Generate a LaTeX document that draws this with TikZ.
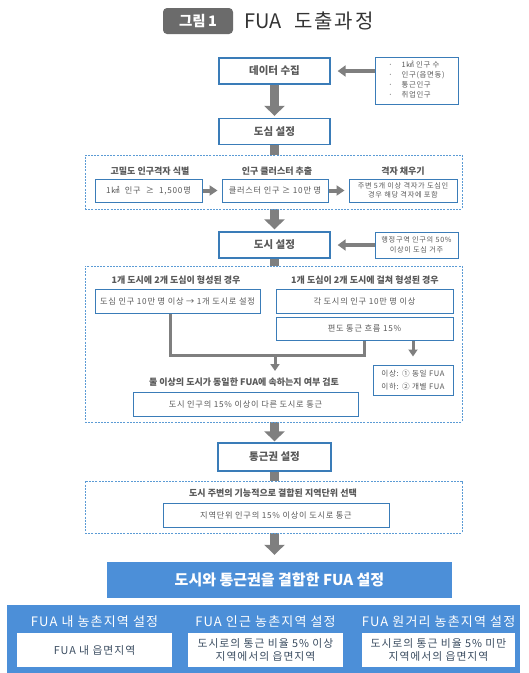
\documentclass[tikz,border=0pt]{standalone}
\usepackage{fontspec}
\setmainfont{Noto Sans CJK KR}
\newfontfamily\krsp{Noto Sans CJK KR}[LetterSpace=9]
\usetikzlibrary{arrows.meta}
\pgfdeclarelayer{bg}
\pgfsetlayers{bg,main}
\definecolor{bdr}{HTML}{3A7CB8}
\definecolor{txt}{HTML}{595959}
\definecolor{arr}{HTML}{7F7F7F}
\definecolor{dsh}{HTML}{5B9BD5}
\definecolor{fua}{HTML}{4C8FD8}
\definecolor{wtxt}{HTML}{3B4D61}
\definecolor{badge}{HTML}{6B6B6B}
\definecolor{ttl}{HTML}{333333}
\tikzset{
 mainbox/.style={draw=bdr, line width=1.3pt, fill=white, text=txt, font=\fontsize{10.5}{12}\selectfont\bfseries, minimum width=111pt, minimum height=26pt, inner sep=0pt},
 sidebox/.style={draw=bdr, line width=1pt, fill=white, text=txt, font=\krsp\fontsize{7.4}{10}\selectfont, inner sep=0pt, align=center},
 frame/.style={draw=dsh, line width=0.7pt, dash pattern=on 2pt off 1.2pt, fill=white, inner sep=0pt, minimum width=377pt},
 subhead/.style={text=txt, font=\fontsize{9}{11}\selectfont\bfseries, inner sep=0pt},
 inbox/.style={draw=bdr, line width=1pt, fill=white, text=txt, font=\krsp\fontsize{8.2}{10}\selectfont, inner sep=0pt, minimum height=24pt, align=center},
 bigarrow/.style={draw=arr, line width=9pt, -{Triangle[width=20pt,length=10pt]}},
 sidearrow/.style={draw=arr, line width=3.5pt, -{Triangle[width=11pt,length=8pt]}},
 smallarrow/.style={draw=arr, line width=4pt, -{Triangle[width=10pt,length=8pt]}},
 link/.style={draw=arr, line width=3pt, line join=miter},
 linkarrow/.style={draw=arr, line width=3pt, -{Triangle[width=9pt,length=7pt]}},
 bandhead/.style={text=white, font=\krsp\fontsize{13}{15}\selectfont, inner sep=0pt},
 whitebox/.style={fill=white, text=wtxt, font=\krsp\fontsize{10.8}{13}\selectfont, inner sep=0pt, minimum height=34pt, align=center},
}
\begin{document}
\begin{tikzpicture}[x=1pt,y=-1pt]
\useasboundingbox (0,0) rectangle (529,673);
% title
\node[fill=badge, rounded corners=4pt, minimum width=70pt, minimum height=26pt, text=white, font=\fontsize{14.5}{16}\selectfont\bfseries, inner sep=0pt] (badge) at (198,21) {그림\,1};
\node[anchor=west, text=ttl, font=\fontsize{20}{22}\selectfont, inner sep=0pt] (title) at (244,21) {FUA\hspace{13pt}{\krsp 도출과정}};
% data
\node[mainbox] (data) at (274.5,71) {데이터 수집};
\node[sidebox, minimum width=83pt, minimum height=47pt] (src) at (416.5,80.5) {\begin{tabular}{@{}l@{\hspace{9pt}}l@{}}·&1㎢ 인구 수\\ ·&인구(읍면동)\\ ·&통근인구\\ ·&취업인구\end{tabular}};
\draw[sidearrow, shorten >=7pt] (src.west |- data.east) -- (data.east);
\node[mainbox] (dosim) at (274.5,131.5) {도심 설정};
% frame 1
\node[frame, minimum height=54pt] (f1) at (273.5,182) {};
\node[subhead] (h11) at (150,171) {고밀도 인구격자 식별};
\node[subhead] (h12) at (277,171) {인구 클러스터 추출};
\node[subhead] (h13) at (403,171) {격자 채우기};
\node[inbox, minimum width=107pt, minimum height=23pt] (b11) at (148.5,190.5) {1㎢ \ 인구 \ ≥ \ 1,500명};
\node[inbox, minimum width=106pt, minimum height=23pt] (b12) at (275,190.5) {클러스터 인구 ≥ 10만 명};
\node[inbox, minimum width=108pt, minimum height=23pt, font=\krsp\fontsize{7.2}{9}\selectfont] (b13) at (403,190.5) {주변 5개 이상 격자가 도심인\\경우 해당 격자에 포함};
\draw[smallarrow, shorten >=4pt] (b11.east) -- (b12.west);
\draw[smallarrow, shorten >=4pt] (b12.east) -- (b13.west);
% dosi
\node[mainbox] (dosi) at (274.5,245) {도시 설정};
\node[sidebox, minimum width=83pt, minimum height=26pt, font=\krsp\fontsize{7.2}{10}\selectfont] (cond) at (416.5,245) {행정구역 인구의 50\%\\이상이 도심 거주};
\draw[sidearrow, shorten >=7pt] (cond.west) -- (dosi.east);
% frame 2
\node[frame, minimum height=156pt] (f2) at (273.5,344) {};
\node[subhead] (h21) at (176,280) {1개 도시에 2개 도심이 형성된 경우};
\node[subhead] (h22) at (365,280) {1개 도심이 2개 도시에 걸쳐 형성된 경우};
\node[inbox, minimum width=165pt] (b21) at (177.5,301) {도심 인구 10만 명 이상 → 1개 도시로 설정};
\node[inbox, minimum width=177pt] (b22) at (364.5,301) {각 도시의 인구 10만 명 이상};
\node[inbox, minimum width=177pt, minimum height=23pt] (b23) at (364.5,328.5) {편도 통근 흐름 15\%};
\coordinate (join) at (275,355);
\coordinate (tip) at (275,371);
\draw[link] ([xshift=-7pt]b21.south) |- (b23.south |- join) -- (b23.south);
\draw[linkarrow] (join) -- (tip);
\node[subhead] (h23) at (244,382) {둘 이상의 도시가 동일한 FUA에 속하는지 여부 검토};
\node[inbox, minimum width=225pt] (b24) at (245.5,404) {도시 인구의 15\% 이상이 다른 도시로 통근};
\node[inbox, minimum width=80pt, minimum height=30pt, font=\krsp\fontsize{7.6}{13}\selectfont] (res) at (413,380) {이상: ① 동일 FUA\\이하: ② 개별 FUA};
\draw[linkarrow, shorten >=8pt] (b23.south -| res.north) -- (res.north);
% tongeun
\node[mainbox, minimum width=113pt, minimum height=28pt] (tong) at (274.5,457) {통근권 설정};
\node[frame, minimum height=52pt] (f3) at (273.5,507) {};
\node[subhead] (h31) at (273,493) {도시 주변의 기능적으로 결합된 지역단위 선택};
\node[inbox, minimum width=226pt] (b31) at (276,515) {지역단위 인구의 15\% 이상이 도시로 통근};
% FUA
\node[fill=fua, minimum width=345pt, minimum height=36pt, text=white, font=\fontsize{15}{17}\selectfont\bfseries, inner sep=0pt] (fuabox) at (279.5,580) {도시와 통근권을 결합한 FUA 설정};
\node[fill=fua, minimum width=513pt, minimum height=68pt, inner sep=0pt] (band) at (263.5,639) {};
\node[bandhead] (g1) at (94.5,622) {FUA 내 농촌지역 설정};
\node[bandhead] (g2) at (265.5,622) {FUA 인근 농촌지역 설정};
\node[bandhead] (g3) at (438.5,622) {FUA 원거리 농촌지역 설정};
\node[whitebox, minimum width=155pt] (w1) at (94.5,650) {FUA 내 읍면지역};
\node[whitebox, minimum width=155pt] (w2) at (265.5,650) {도시로의 통근 비율 5\% 이상\\지역에서의 읍면지역};
\node[whitebox, minimum width=153pt] (w3) at (438.5,650) {도시로의 통근 비율 5\% 미만\\지역에서의 읍면지역};
% big arrows
\begin{pgfonlayer}{bg}
\draw[bigarrow, shorten >=2pt] (data.south) -- (dosim.north);
\draw[bigarrow, shorten >=2pt] (dosim.south) -- (dosi.north);
\draw[bigarrow, shorten >=1pt] (dosi.south) -- (tong.north);
\draw[bigarrow, shorten >=7pt] (tong.south) -- (tong.south |- fuabox.north);
\end{pgfonlayer}
\end{tikzpicture}
\end{document}
